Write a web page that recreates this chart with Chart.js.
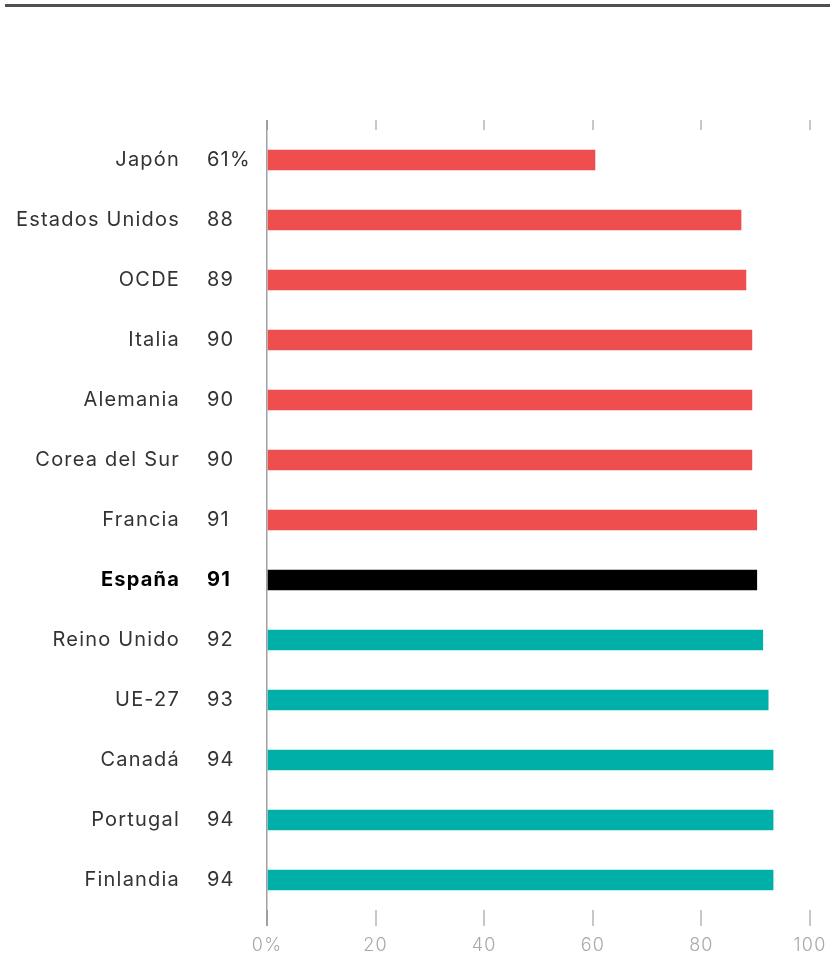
<!DOCTYPE html>
<html lang="es">
<head>
    <meta charset="UTF-8">
    <title>Gráfico de barras</title>
    <script src="https://cdn.jsdelivr.net/npm/chart.js"></script>
    <style>
        body {
            margin: 0;
            padding: 0;
            background: #ffffff;
        }
        .linea-superior {
            position: absolute;
            top: 4px;
            left: 5px;
            right: 5px;
            height: 3px;
            background: #505050;
        }
        .contenedor {
            position: relative;
            width: 835px;
            height: 958px;
        }
        canvas {
            display: block;
        }
    </style>
</head>
<body>
    <div class="contenedor">
        <div class="linea-superior"></div>
        <canvas id="grafico" width="835" height="958"></canvas>
    </div>

    <script>
        // datos
        const paises = ["Japón", "Estados Unidos", "OCDE", "Italia", "Alemania", "Corea del Sur",
            "Francia", "España", "Reino Unido", "UE-27", "Canadá", "Portugal", "Finlandia"];
        const valores = [60.4, 87.3, 88.2, 89.3, 89.3, 89.3, 90.2, 90.2, 91.3, 92.3, 93.2, 93.2, 93.2];
        const etiquetasValor = ["61%", "88", "89", "90", "90", "90", "91", "91", "92", "93", "94", "94", "94"];
        const etiquetasEje = ["0%", "20", "40", "60", "80", "100"];
        const destacado = "España";

        const ROJO = "#ee4e4e";
        const VERDE = "#00b0a8";
        const NEGRO = "#000000";
        const FUENTE = "Inter";
        const ESPACIADO = "1.2px";

        const idxDestacado = paises.indexOf(destacado);

        function colorBarra(i) {
            if (i === idxDestacado) return NEGRO;
            return i < idxDestacado ? ROJO : VERDE;
        }

        // espaciado de letras y etiquetas de valor a la izquierda del eje
        const pluginTextos = {
            id: "textos",
            beforeDraw(chart) {
                chart.ctx.letterSpacing = ESPACIADO;
            },
            afterDraw(chart) {
                const ctx = chart.ctx;
                const y = chart.scales.y;
                const area = chart.chartArea;
                ctx.save();
                ctx.letterSpacing = ESPACIADO;
                ctx.textAlign = "left";
                ctx.textBaseline = "middle";
                etiquetasValor.forEach((txt, i) => {
                    const negrita = i === idxDestacado;
                    ctx.font = (negrita ? "bold " : "") + "20px " + FUENTE;
                    ctx.fillStyle = negrita ? "#000" : "#333";
                    ctx.fillText(txt, area.left - 60, y.getPixelForValue(i));
                });
                ctx.restore();
            }
        };

        new Chart(document.getElementById("grafico"), {
            type: "bar",
            data: {
                labels: paises,
                datasets: [{
                    data: valores,
                    backgroundColor: paises.map((p, i) => colorBarra(i)),
                    barThickness: 20,
                    xAxisID: "x"
                }]
            },
            options: {
                indexAxis: "y",
                responsive: false,
                animation: false,
                layout: { padding: { top: 120, right: 25, bottom: 0, left: 0 } },
                plugins: {
                    legend: { display: false },
                    tooltip: { enabled: false }
                },
                scales: {
                    x: {
                        position: "bottom",
                        min: 0,
                        max: 100,
                        ticks: {
                            stepSize: 20,
                            padding: 9,
                            color: "#a8a8a8",
                            font: { family: FUENTE, size: 18, weight: 300 },
                            callback: (v, i) => etiquetasEje[i]
                        },
                        grid: {
                            drawOnChartArea: false,
                            drawTicks: true,
                            tickLength: 16,
                            lineWidth: 2,
                            color: c => (c.tick && c.tick.value === 0) ? "#a0a0a0" : "#c8c8c8"
                        },
                        border: { display: false },
                        afterFit: s => { s.height = 48; }
                    },
                    xTop: {
                        position: "top",
                        min: 0,
                        max: 100,
                        ticks: { stepSize: 20, display: false },
                        grid: {
                            drawOnChartArea: false,
                            drawTicks: true,
                            tickLength: 10,
                            lineWidth: 2,
                            color: c => (c.tick && c.tick.value === 0) ? "#a0a0a0" : "#c8c8c8"
                        },
                        border: { display: false },
                        afterFit: s => { s.height = 10; }
                    },
                    y: {
                        ticks: {
                            padding: 87,
                            color: c => c.index === idxDestacado ? "#000" : "#333",
                            font: c => ({
                                family: FUENTE,
                                size: 20,
                                weight: c.index === idxDestacado ? "bold" : "normal"
                            })
                        },
                        grid: { display: false, drawTicks: false },
                        border: { display: true, color: "#a0a0a0", width: 1.5 },
                        // el padding grande de las etiquetas no debe recortar el área
                        afterFit: s => {
                            s.width = 267;
                            s.paddingTop = 0;
                            s.paddingBottom = 0;
                        }
                    }
                }
            },
            plugins: [pluginTextos]
        });
    </script>
</body>
</html>
